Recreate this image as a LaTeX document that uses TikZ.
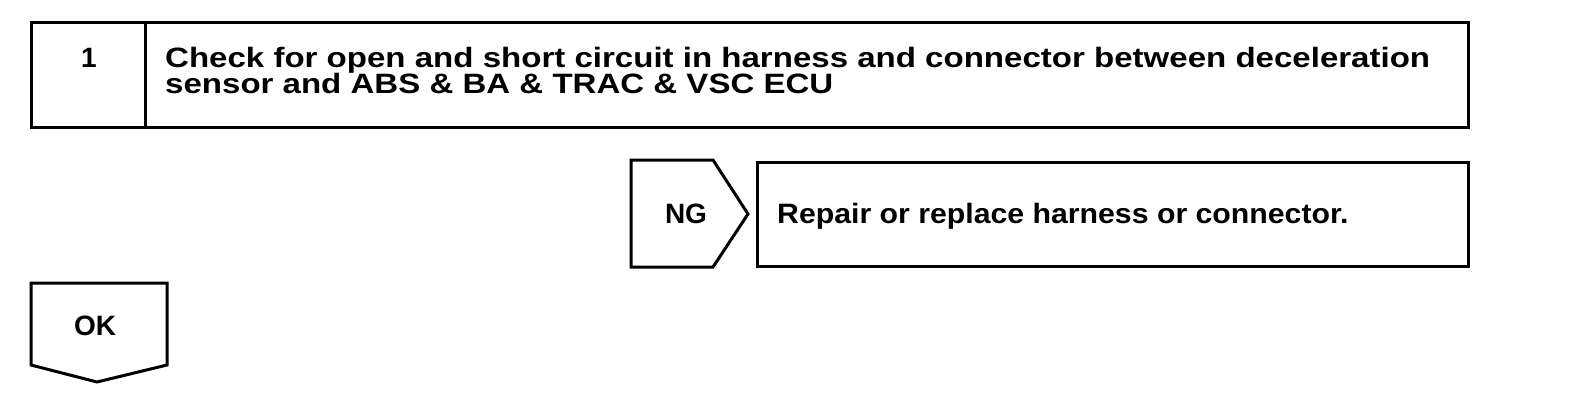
\documentclass[tikz,border=0pt]{standalone}
\usepackage{fontspec}
\setmainfont{Liberation Sans}
\newfontfamily\titlefont[FakeStretch=1.18]{Liberation Sans}
\newfontfamily\repfont[FakeStretch=1.08]{Liberation Sans}
\setlength{\lineskiplimit}{-30pt}
\begin{document}
\begin{tikzpicture}[x=1pt,y=-1pt,
  frame/.style={draw=black,line width=3pt,line join=miter},
  lbl/.style={font=\bfseries\fontsize{28}{26}\selectfont,inner sep=0pt,anchor=base},
  body/.style={font=\titlefont\bfseries\fontsize{28}{26}\selectfont,inner sep=0pt,align=left,anchor=base west}]
\useasboundingbox (0,0) rectangle (1584,408);
% top step box
\draw[frame] (31,22) rectangle (1468,127);
\draw[frame] (145,22) -- (145,127);
\node[lbl] (num) at (89,67) {1};
\node[body] (title) at (165,93) {Check for open and short circuit in harness and connector between deceleration\\sensor and ABS \& BA \& TRAC \& VSC ECU};
% NG arrow
\draw[frame] (631,160) -- (713,160) -- (748,214) -- (713,267) -- (631,267) -- cycle;
\node[lbl] (ng) at (686,223) {NG};
% repair box
\draw[frame] (757,162) rectangle (1468,266);
\node[body,font=\repfont\bfseries\fontsize{28}{26}\selectfont] (repair) at (777,223) {Repair or replace harness or connector.};
% OK arrow
\draw[frame] (31,283) -- (167,283) -- (167,365) -- (97,382) -- (31,365) -- cycle;
\node[lbl] (ok) at (95,335) {OK};
\end{tikzpicture}
\end{document}
